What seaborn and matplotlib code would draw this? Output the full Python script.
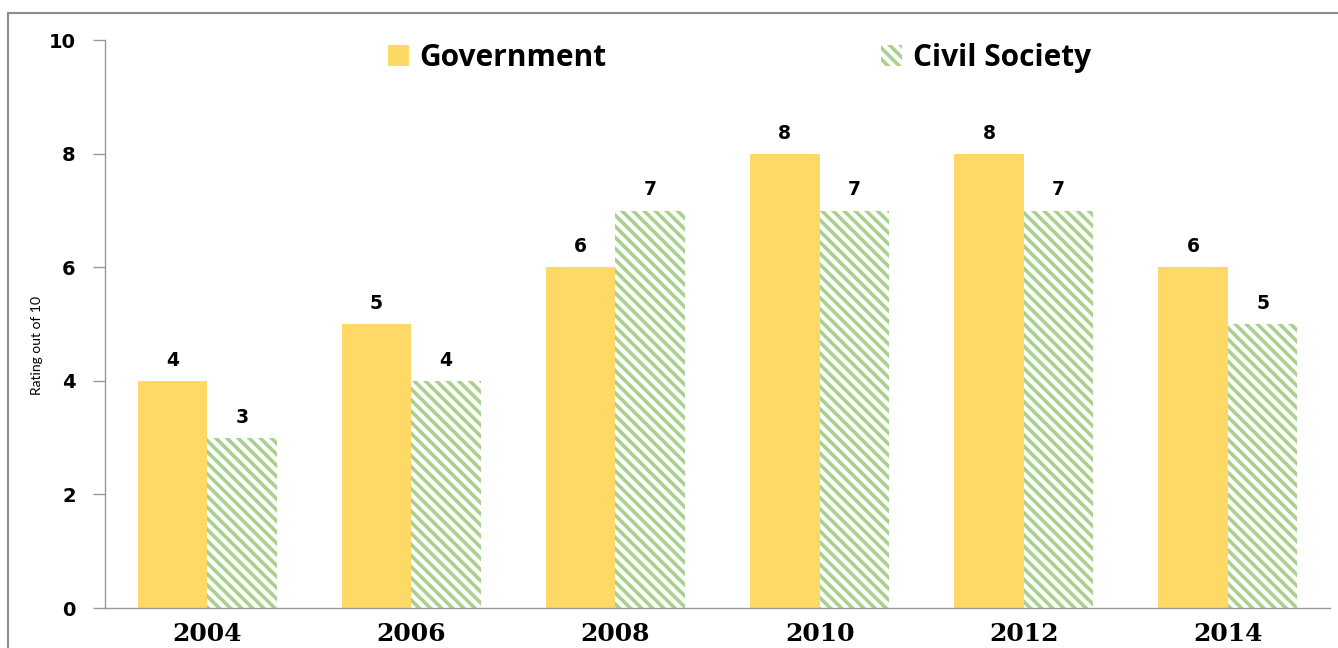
import pandas as pd
import matplotlib.pyplot as plt
import matplotlib.patches as mpatches
import seaborn as sns

years = ["2004", "2006", "2008", "2010", "2012", "2014"]
government = [4, 5, 6, 8, 8, 6]
civil_society = [3, 4, 7, 7, 7, 5]
series_names = ["Government", "Civil Society"]

gov_color = "#FFD966"
civ_color = "#A9D18E"
hatch = "\\\\\\"

df = pd.DataFrame({
    "Year": years * 2,
    "Rating": government + civil_society,
    "Series": [series_names[0]] * len(years) + [series_names[1]] * len(years),
})

sns.set_theme(style="white")
plt.rcParams["font.family"] = ["DejaVu Sans"]
plt.rcParams["text.color"] = "black"
plt.rcParams["hatch.linewidth"] = 2.6
plt.rcParams["hatch.color"] = civ_color

fig = plt.figure(figsize=(13.38, 6.48), dpi=100)
ax = fig.add_axes([0.0785, 0.0617, 0.9155, 0.8763])

sns.barplot(data=df, x="Year", y="Rating", hue="Series", order=years,
            hue_order=series_names, palette=[gov_color, "white"],
            width=0.68, saturation=1, ax=ax, legend=False)

for bar in ax.containers[0]:
    bar.set_edgecolor("none")
for bar in ax.containers[1]:
    bar.set_facecolor("white")
    bar.set_edgecolor(civ_color)
    bar.set_linewidth(0)
    bar.set_hatch(hatch)

for cont in ax.containers:
    ax.bar_label(cont, labels=[f"{int(v)}" for v in cont.datavalues], padding=8,
                 fontsize=13.5, fontweight="bold", color="black")

ax.set_xlim(-0.5, 5.5)
ax.set_ylim(0, 10)
ax.set_yticks([0, 2, 4, 6, 8, 10])
ax.set_yticklabels(["0", "2", "4", "6", "8", "10"], fontsize=14, fontweight="bold")
ax.set_xticks(range(len(years)))
ax.set_xticklabels(years, fontsize=18, fontweight="bold", family="DejaVu Serif")
ax.set_xlabel("")
ax.set_ylabel("Rating out of 10", fontsize=10, family=["Lato", "DejaVu Sans"], color="black")
ax.yaxis.set_label_coords((43 - 105) / 1225, (608 - 345) / 568)

ax.tick_params(axis="y", direction="out", length=9, width=1, color="#999999", pad=12, left=True,
               labelcolor="black")
ax.tick_params(axis="x", length=0, pad=10, labelcolor="black")

sns.despine(ax=ax, top=True, right=True)
for side in ["left", "bottom"]:
    ax.spines[side].set_color("#999999")
    ax.spines[side].set_linewidth(1)

handles = [
    mpatches.Patch(facecolor=gov_color, edgecolor="none", label=series_names[0]),
    mpatches.Patch(facecolor="white", edgecolor=civ_color, hatch=hatch, linewidth=0,
                   label=series_names[1]),
]
leg = fig.legend(handles=handles, loc="center left", bbox_to_anchor=(388 / 1338, 1 - 58 / 648),
                 ncol=2, frameon=False, columnspacing=9.2, handlelength=0.7, handleheight=0.7,
                 handletextpad=0.35, borderpad=0, borderaxespad=0,
                 prop={"family": "Open Sans", "weight": "bold", "size": 21.5})
for t in leg.get_texts():
    t.set_color("black")

frame = mpatches.Rectangle((8 / 1338, -0.1), 2, 1 - 13 / 648 + 0.1, transform=fig.transFigure,
                           fill=False, edgecolor="#8c8c8c", linewidth=1.5, clip_on=False)
fig.patches.append(frame)

fig.savefig("out.png", dpi=100)
